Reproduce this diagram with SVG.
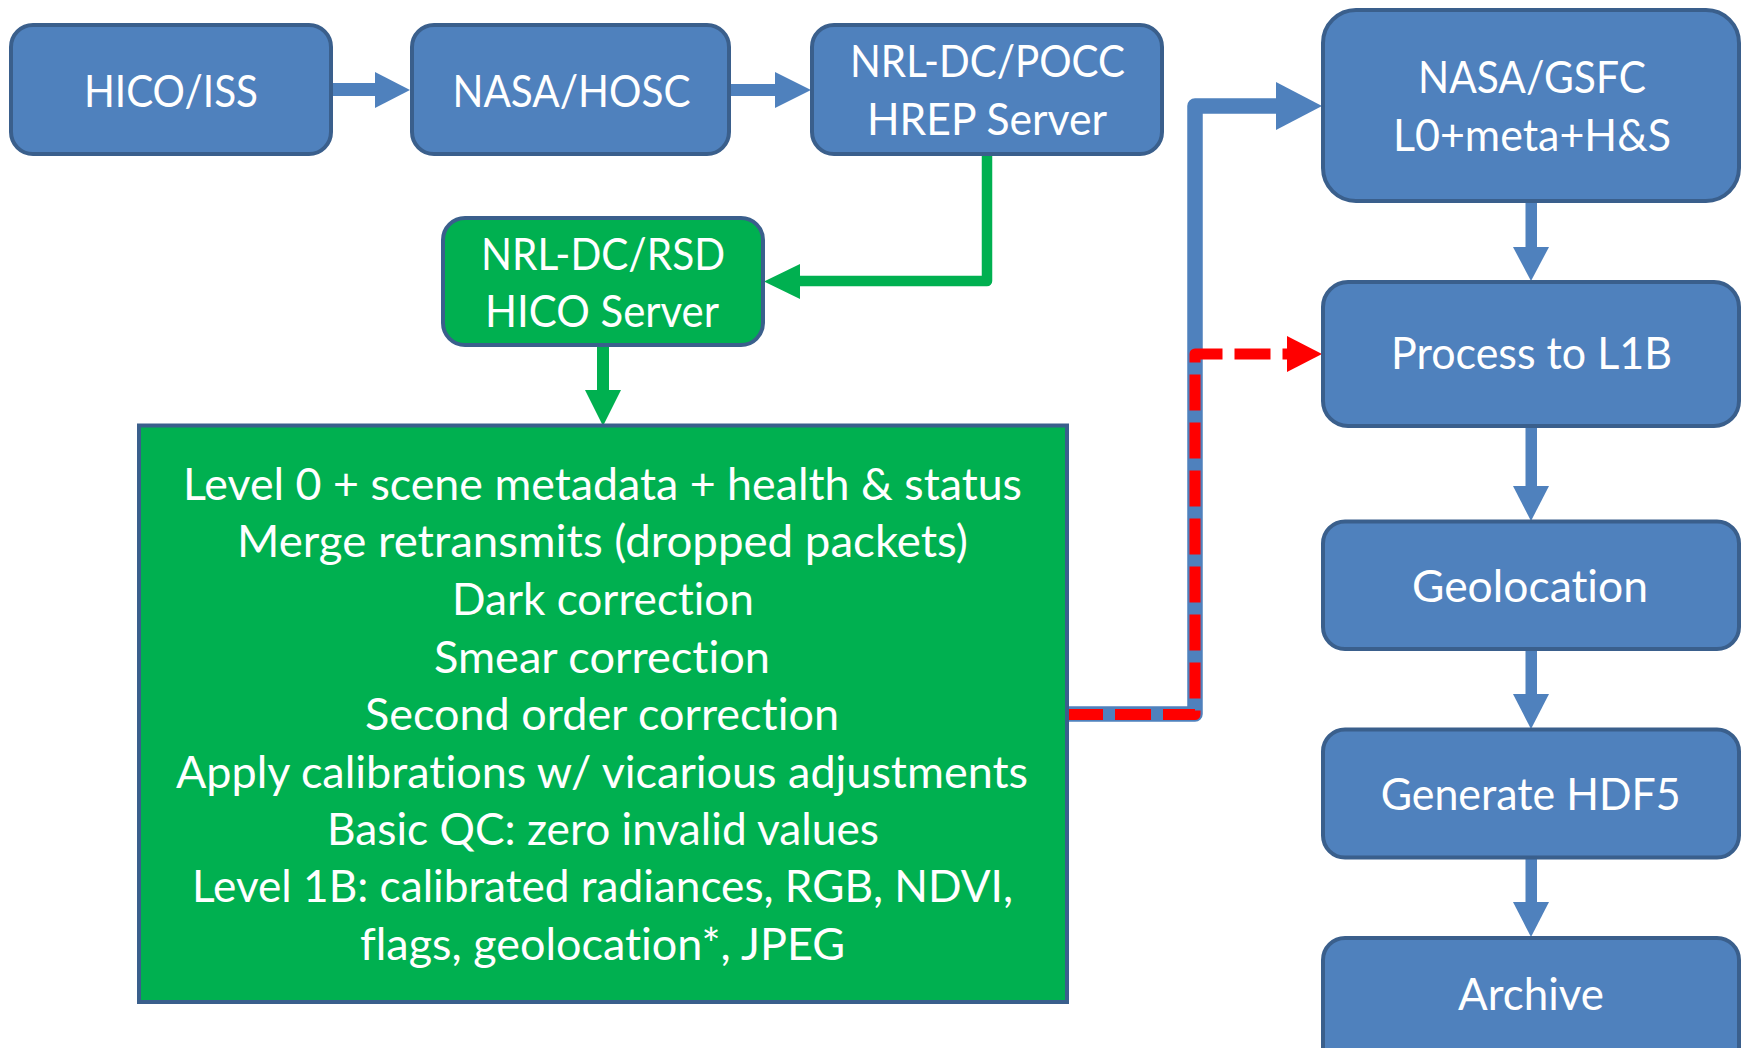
<svg xmlns="http://www.w3.org/2000/svg" width="1746" height="1048" viewBox="0 0 1746 1048">
<style>
.bx{fill:#4F81BD;stroke:#3A5F8C;stroke-width:4}
.gx{fill:#00B050;stroke:#3A5F8C;stroke-width:4}
.t{font-family:Lato,"Open Sans","Liberation Sans",sans-serif;font-size:44px;fill:#FFFFFF;text-anchor:middle;font-variant-ligatures:none}
.bl{fill:#4F81BD}
.gr{fill:#00B050}
.rd{fill:#FF0000}
</style>
<rect width="1746" height="1048" fill="#FFFFFF"/>
<g id="connectors">
  <rect class="bl" x="331" y="83" width="45" height="13"/>
  <polygon class="bl" points="375,72 410,90 375,108"/>
  <rect class="bl" x="729" y="84" width="47" height="12"/>
  <polygon class="bl" points="775,72 811,90 775,108"/>
  <path d="M987,154 V281 H800" fill="none" stroke="#00B050" stroke-width="10.5" stroke-linejoin="round"/>
  <polygon class="gr" points="800,264 764,281.5 800,299"/>
  <rect class="gr" x="597" y="345" width="12" height="46"/>
  <polygon class="gr" points="585,390 621,390 603,426"/>
  <path d="M1061,714 H1195 V106 H1277" fill="none" stroke="#4F81BD" stroke-width="15.5" stroke-linejoin="round"/>
  <polygon class="bl" points="1276,82 1322,106 1276,130"/>
  <path d="M1061,714.5 H1195 V354 H1288" fill="none" stroke="#FF0000" stroke-width="11" stroke-dasharray="36 12" stroke-dashoffset="42" stroke-linejoin="round"/>
  <polygon class="rd" points="1287,336 1322,354 1287,372"/>
  <rect class="bl" x="1525.5" y="201" width="11.5" height="47"/>
  <polygon class="bl" points="1513,247 1549,247 1531,281"/>
  <rect class="bl" x="1525.5" y="426" width="11.5" height="61"/>
  <polygon class="bl" points="1513,486 1549,486 1531,521"/>
  <rect class="bl" x="1525.5" y="649" width="11.5" height="46"/>
  <polygon class="bl" points="1513,694 1549,694 1531,729"/>
  <rect class="bl" x="1525.5" y="857" width="11.5" height="46"/>
  <polygon class="bl" points="1513,902 1549,902 1531,937"/>
</g>
<g id="hico-iss">
  <rect class="bx" x="11" y="25" width="320" height="129" rx="22"/>
  <text class="t" x="171" y="107" textLength="174" lengthAdjust="spacingAndGlyphs">HICO/ISS</text>
</g>
<g id="nasa-hosc">
  <rect class="bx" x="412" y="25" width="317" height="129" rx="22"/>
  <text class="t" x="571.5" y="107" textLength="238" lengthAdjust="spacingAndGlyphs">NASA/HOSC</text>
</g>
<g id="nrl-pocc">
  <rect class="bx" x="812" y="25" width="350" height="129" rx="22"/>
  <text class="t" x="987.5" y="77" textLength="275" lengthAdjust="spacingAndGlyphs">NRL-DC/POCC</text>
  <text class="t" x="987" y="135" textLength="240" lengthAdjust="spacingAndGlyphs">HREP Server</text>
</g>
<g id="nrl-rsd">
  <rect class="gx" x="443" y="218" width="320" height="127" rx="22"/>
  <text class="t" x="603" y="270" textLength="244" lengthAdjust="spacingAndGlyphs">NRL-DC/RSD</text>
  <text class="t" x="602" y="327" textLength="234" lengthAdjust="spacingAndGlyphs">HICO Server</text>
</g>
<g id="processing">
  <rect class="gx" x="139" y="425.5" width="928" height="576.5" stroke-width="4.5"/>
  <text class="t" x="602.5" y="500" textLength="839" lengthAdjust="spacingAndGlyphs">Level 0 + scene metadata + health &amp; status</text>
  <text class="t" x="602.5" y="557" textLength="731" lengthAdjust="spacingAndGlyphs">Merge retransmits (dropped packets)</text>
  <text class="t" x="603" y="615" textLength="302" lengthAdjust="spacingAndGlyphs">Dark correction</text>
  <text class="t" x="602" y="673" textLength="336" lengthAdjust="spacingAndGlyphs">Smear correction</text>
  <text class="t" x="602" y="730" textLength="474" lengthAdjust="spacingAndGlyphs">Second order correction</text>
  <text class="t" x="602" y="788" textLength="852" lengthAdjust="spacingAndGlyphs">Apply calibrations w/ vicarious adjustments</text>
  <text class="t" x="603" y="845" textLength="552" lengthAdjust="spacingAndGlyphs">Basic QC: zero invalid values</text>
  <text class="t" x="602.5" y="902" textLength="821" lengthAdjust="spacingAndGlyphs">Level 1B: calibrated radiances, RGB, NDVI,</text>
  <text class="t" x="602.5" y="960" textLength="485" lengthAdjust="spacingAndGlyphs">flags, geolocation*, JPEG</text>
</g>
<g id="nasa-gsfc">
  <rect class="bx" x="1323" y="10" width="416" height="191" rx="33"/>
  <text class="t" x="1532" y="93" textLength="228" lengthAdjust="spacingAndGlyphs">NASA/GSFC</text>
  <text class="t" x="1532" y="151" textLength="278" lengthAdjust="spacingAndGlyphs">L0+meta+H&amp;S</text>
</g>
<g id="process-l1b">
  <rect class="bx" x="1323" y="282" width="416" height="144" rx="25"/>
  <text class="t" x="1531.5" y="369" textLength="281" lengthAdjust="spacingAndGlyphs">Process to L1B</text>
</g>
<g id="geolocation">
  <rect class="bx" x="1323" y="521.5" width="416" height="127.5" rx="22"/>
  <text class="t" x="1530" y="602" textLength="236" lengthAdjust="spacingAndGlyphs">Geolocation</text>
</g>
<g id="generate-hdf5">
  <rect class="bx" x="1323" y="729.5" width="416" height="128" rx="22"/>
  <text class="t" x="1530.7" y="810" textLength="300" lengthAdjust="spacingAndGlyphs">Generate HDF5</text>
</g>
<g id="archive">
  <rect class="bx" x="1323" y="938" width="416" height="140" rx="22"/>
  <text class="t" x="1531" y="1010" textLength="146" lengthAdjust="spacingAndGlyphs">Archive</text>
</g>
</svg>
